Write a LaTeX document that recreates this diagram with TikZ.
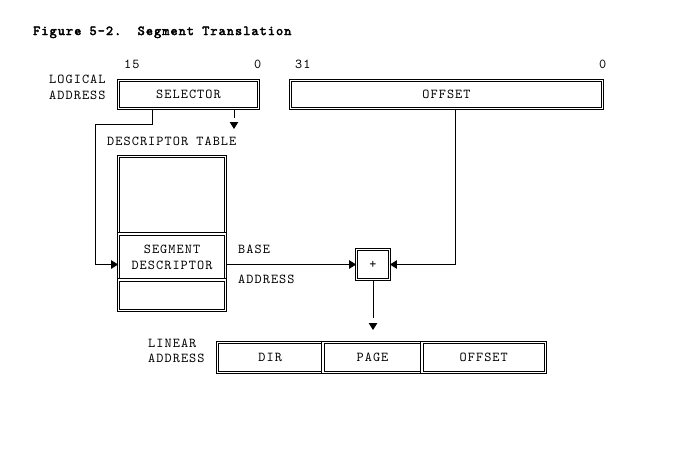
\documentclass[tikz,border=0pt]{standalone}
\usepackage{fontspec}
\setmonofont[LetterSpace=7.8, BoldFont=lmmono10-regular.otf, BoldFeatures={FakeBold=3}]{lmmono10-regular.otf}
\usetikzlibrary{arrows.meta, positioning}

\begin{document}
\begin{tikzpicture}[x=1pt, y=-1pt,
    every node/.style={font=\ttfamily\fontsize{13.6}{16}\selectfont},
    reg/.style={draw, double, double distance=1.5pt, line width=0.8pt, inner sep=0pt},
    lbl/.style={inner sep=0pt, anchor=base west},
    conn/.style={line width=0.9pt},
    arr/.style={conn, -{Triangle[length=7pt, width=8.5pt]}}
  ]
    \useasboundingbox (0,0) rectangle (682,451);
    % title
    \node[lbl, font=\ttfamily\bfseries\fontsize{13.6}{16}\selectfont] (title) at (33,35) {Figure 5-2.~~Segment Translation};
    % logical address
    \node[lbl] (log1) at (49,83) {LOGICAL};
    \node[lbl] (log2) at (49,99) {ADDRESS};
    \node[reg, minimum width=140pt, minimum height=28pt] (sel) at (188.5,94.5) {SELECTOR};
    \node[reg, minimum width=312pt, minimum height=28pt] (off) at (446.5,94.5) {OFFSET};
    \node[lbl] (b15) at (124,68) {15};
    \node[lbl] (b0a) at (254,68) {0};
    \node[lbl] (b31) at (295,68) {31};
    \node[lbl] (b0b) at (599,68) {0};
    % descriptor table
    \node[lbl] (dtab) at (107,145) {DESCRIPTOR TABLE};
    \node[reg, minimum width=107pt, minimum height=77.5pt] (top) at (172,195.25) {};
    \node[reg, minimum width=107pt, minimum height=46pt, align=center] (seg) at (172,257) {SEGMENT\\DESCRIPTOR};
    \node[reg, minimum width=107pt, minimum height=30.5pt] (bot) at (172,295.25) {};
    \node[lbl] (base1) at (238,253) {BASE};
    \node[lbl] (base2) at (238,283) {ADDRESS};
    % adder
    \node[reg, minimum width=33pt, minimum height=30pt] (plus) at (373,264.5) {+};
    % linear address
    \node[lbl] (lin1) at (148,347) {LINEAR};
    \node[lbl] (lin2) at (148,362) {ADDRESS};
    \node[reg, minimum width=105.5pt, minimum height=30pt] (dir) at (270.25,357.5) {DIR};
    \node[reg, minimum width=99pt, minimum height=30pt] (page) at (372.5,357.5) {PAGE};
    \node[reg, minimum width=123.5pt, minimum height=30pt] (loff) at (483.75,357.5) {OFFSET};
    % connectors
    \coordinate (selx) at (152,0);
    \coordinate (bend) at (95,124);
    \coordinate (tblx) at (234,129);
    \coordinate (offx) at (455,0);
    \coordinate (lintip) at (373,330);
    \draw[arr] (sel.south -| selx) |- (bend) |- (seg.west |- plus);
    \draw[arr, dash pattern=on 9.5pt off 10pt] (sel.south -| tblx) -- (tblx);
    \draw[arr] (seg.east |- plus) -- (plus.west);
    \draw[arr] (off.south -| offx) |- (plus.east);
    \draw[arr, dash pattern=on 38pt off 10pt] (plus.south) -- (lintip);
\end{tikzpicture}
\end{document}
